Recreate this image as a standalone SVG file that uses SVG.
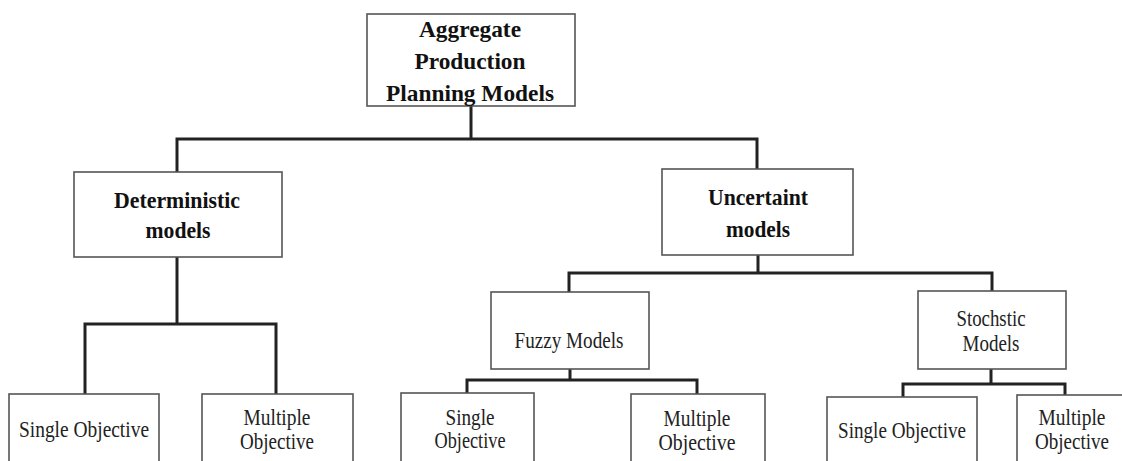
<svg xmlns="http://www.w3.org/2000/svg" width="1122" height="461" viewBox="0 0 1122 461">
<style>
.box{fill:#fff;stroke:#555;stroke-width:1.6}
.con{fill:none;stroke:#222;stroke-width:3;stroke-linejoin:miter;stroke-linecap:square}
.b{font-family:'Liberation Serif','DejaVu Serif','Times New Roman',serif;font-weight:bold;font-size:24px;fill:#111;text-anchor:middle}
.r{font-family:'Liberation Serif','DejaVu Serif','Times New Roman',serif;font-size:23px;fill:#222;text-anchor:middle}
</style>
<rect width="1122" height="461" fill="#fff"/>
<g id="connectors">
<path class="con" d="M471,107 V139 M177,139 H757 M177,139 V171 M757,139 V168"/>
<path class="con" d="M177,258 V324 M85,324 H276 M85,324 V393 M276,324 V393"/>
<path class="con" d="M758,256 V273 M569,273 H992 M569,273 V291 M992,273 V290"/>
<path class="con" d="M570,370 V380 M467,380 H697 M467,380 V392 M697,380 V393"/>
<path class="con" d="M991,370 V384 M903,384 H1065 M903,384 V396 M1065,384 V394"/>
</g>
<g id="root">
<rect class="box" x="367" y="14" width="208" height="92"/>
<text class="b" x="470" y="37" textLength="102" lengthAdjust="spacingAndGlyphs">Aggregate</text>
<text class="b" x="470" y="69" textLength="111" lengthAdjust="spacingAndGlyphs">Production</text>
<text class="b" x="470" y="101" textLength="168" lengthAdjust="spacingAndGlyphs">Planning Models</text>
</g>
<g id="deterministic">
<rect class="box" x="74" y="172" width="208" height="85"/>
<text class="b" x="177" y="208" textLength="126" lengthAdjust="spacingAndGlyphs">Deterministic</text>
<text class="b" x="178" y="238" textLength="65" lengthAdjust="spacingAndGlyphs">models</text>
</g>
<g id="uncertain">
<rect class="box" x="662" y="169" width="191" height="86"/>
<text class="b" x="758" y="205" textLength="100" lengthAdjust="spacingAndGlyphs">Uncertaint</text>
<text class="b" x="758" y="237" textLength="64" lengthAdjust="spacingAndGlyphs">models</text>
</g>
<g id="fuzzy">
<rect class="box" x="491" y="292" width="158" height="77"/>
<text class="r" x="569" y="348" textLength="109" lengthAdjust="spacingAndGlyphs">Fuzzy Models</text>
</g>
<g id="stochastic">
<rect class="box" x="918" y="291" width="148" height="78"/>
<text class="r" x="991" y="326" textLength="69" lengthAdjust="spacingAndGlyphs">Stochstic</text>
<text class="r" x="991" y="351" textLength="57" lengthAdjust="spacingAndGlyphs">Models</text>
</g>
<g id="det-single">
<rect class="box" x="9" y="394" width="150" height="80"/>
<text class="r" x="84" y="437" textLength="130" lengthAdjust="spacingAndGlyphs">Single Objective</text>
</g>
<g id="det-multiple">
<rect class="box" x="202" y="394" width="151" height="80"/>
<text class="r" x="277" y="425" textLength="67" lengthAdjust="spacingAndGlyphs">Multiple</text>
<text class="r" x="277" y="449" textLength="74" lengthAdjust="spacingAndGlyphs">Objective</text>
</g>
<g id="fuzzy-single">
<rect class="box" x="401" y="393" width="133" height="80"/>
<text class="r" x="470" y="425" textLength="49" lengthAdjust="spacingAndGlyphs">Single</text>
<text class="r" x="470" y="448" textLength="71" lengthAdjust="spacingAndGlyphs">Objective</text>
</g>
<g id="fuzzy-multiple">
<rect class="box" x="631" y="394" width="134" height="80"/>
<text class="r" x="697" y="426" textLength="67" lengthAdjust="spacingAndGlyphs">Multiple</text>
<text class="r" x="697" y="450" textLength="77" lengthAdjust="spacingAndGlyphs">Objective</text>
</g>
<g id="stoch-single">
<rect class="box" x="827" y="397" width="150" height="80"/>
<text class="r" x="902" y="438" textLength="128" lengthAdjust="spacingAndGlyphs">Single Objective</text>
</g>
<g id="stoch-multiple">
<rect class="box" x="1017" y="395" width="120" height="80"/>
<text class="r" x="1072" y="425" textLength="67" lengthAdjust="spacingAndGlyphs">Multiple</text>
<text class="r" x="1072" y="449" textLength="74" lengthAdjust="spacingAndGlyphs">Objective</text>
</g>
</svg>
